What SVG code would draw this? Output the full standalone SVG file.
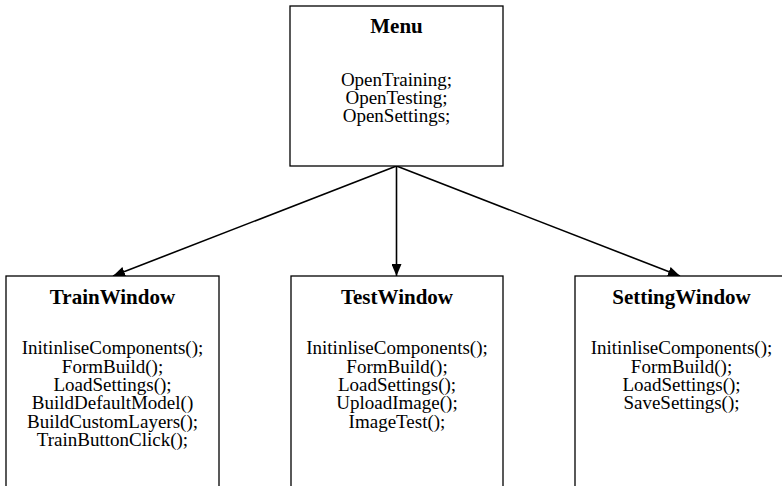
<svg xmlns="http://www.w3.org/2000/svg" width="782" height="486" viewBox="0 0 782 486">
<style>
.box{fill:#fff;stroke:#000;stroke-width:1.3}
.t{font-family:"Liberation Serif","Times New Roman",serif;font-size:21px;font-weight:bold;text-anchor:middle;fill:#000}
.b{font-family:"Liberation Serif","Times New Roman",serif;font-size:19px;text-anchor:middle;fill:#000}
.c{stroke:#000;stroke-width:1.6;fill:none;marker-end:url(#ah)}
</style>
<defs>
<marker id="ah" viewBox="0 0 12 10" refX="12" refY="5" markerWidth="12" markerHeight="10" markerUnits="userSpaceOnUse" orient="auto">
<path d="M0,0 L12,5 L0,10 Z" fill="#000"/>
</marker>
</defs>
<rect width="782" height="486" fill="#fff"/>
<g id="connectors">
<line class="c" x1="396.5" y1="166" x2="113" y2="276"/>
<line class="c" x1="396.5" y1="166" x2="396.5" y2="276"/>
<line class="c" x1="396.5" y1="166" x2="680" y2="276"/>
</g>
<g id="menu">
<rect class="box" x="290" y="6" width="213" height="160"/>
<text class="t" x="396.5" y="33">Menu</text>
<text class="b" x="396.5" y="85.7">OpenTraining;</text>
<text class="b" x="396.5" y="103.5">OpenTesting;</text>
<text class="b" x="396.5" y="121.5">OpenSettings;</text>
</g>
<g id="trainwindow">
<rect class="box" x="6" y="276" width="213" height="230"/>
<text class="t" x="112.5" y="304.3">TrainWindow</text>
<text class="b" x="112.5" y="354.3">InitinliseComponents();</text>
<text class="b" x="112.5" y="372.6">FormBuild();</text>
<text class="b" x="112.5" y="390.9">LoadSettings();</text>
<text class="b" x="112.5" y="409.2">BuildDefaultModel()</text>
<text class="b" x="112.5" y="427.5">BuildCustomLayers();</text>
<text class="b" x="112.5" y="445.8">TrainButtonClick();</text>
</g>
<g id="testwindow">
<rect class="box" x="291" y="276" width="212" height="230"/>
<text class="t" x="397" y="304.3">TestWindow</text>
<text class="b" x="397" y="354.3">InitinliseComponents();</text>
<text class="b" x="397" y="372.6">FormBuild();</text>
<text class="b" x="397" y="390.9">LoadSettings();</text>
<text class="b" x="397" y="409.2">UploadImage();</text>
<text class="b" x="397" y="427.5">ImageTest();</text>
</g>
<g id="settingwindow">
<rect class="box" x="575" y="276" width="213" height="230"/>
<text class="t" x="681.5" y="304.3">SettingWindow</text>
<text class="b" x="681.5" y="354.3">InitinliseComponents();</text>
<text class="b" x="681.5" y="372.6">FormBuild();</text>
<text class="b" x="681.5" y="390.9">LoadSettings();</text>
<text class="b" x="681.5" y="409.2">SaveSettings();</text>
</g>
</svg>
